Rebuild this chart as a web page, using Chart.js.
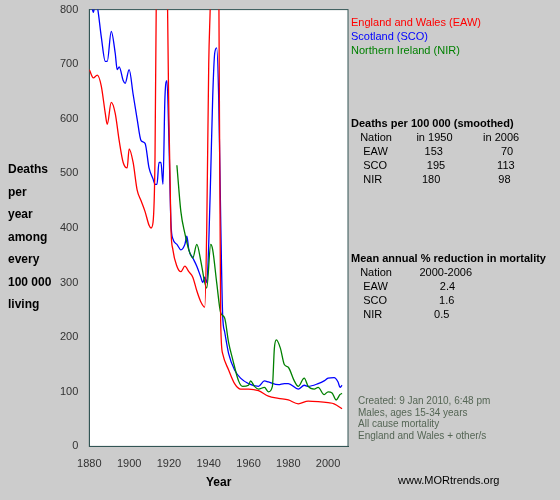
<!DOCTYPE html>
<html><head><meta charset="utf-8">
<script src="https://cdn.jsdelivr.net/npm/chart.js@4/dist/chart.umd.min.js"></script>
<style>
body{margin:0;background:#cccccc;font-family:"Liberation Sans",Arial,sans-serif;}
#wrap{position:relative;width:560px;height:500px;}
canvas{position:absolute;left:0;top:0;}
.t{position:absolute;font-size:11px;white-space:pre;line-height:14px;}
.b{font-weight:bold;}
</style></head><body>
<div id="wrap">
<canvas id="c" width="560" height="500"></canvas>
<div class="t b" style="left:8px;top:158px;font-size:12px;line-height:22.5px;">Deaths
per
year
among
every
100 000
living</div>
<div class="t" style="left:351px;top:15px;color:#ff0000">England and Wales (EAW)</div>
<div class="t" style="left:351px;top:29px;color:#0000ff">Scotland (SCO)</div>
<div class="t" style="left:351px;top:43px;color:#008000">Northern Ireland (NIR)</div>
<div class="t" style="left:351px;top:116px;"><span class="b">Deaths per 100 000 (smoothed)</span>
   Nation        in 1950          in 2006
    EAW            153                   70
    SCO             195                 113
    NIR             180                   98</div>
<div class="t" style="left:351px;top:251px;"><span class="b">Mean annual % reduction in mortality</span>
   Nation         2000-2006
    EAW                 2.4
    SCO                 1.6
    NIR                 0.5</div>
<div class="t" style="left:358px;top:395px;font-size:10px;line-height:11.5px;color:#556655">Created: 9 Jan 2010, 6:48 pm
Males, ages 15-34 years
All cause mortality
England and Wales + other/s</div>
<div class="t" style="left:398px;top:473px;">www.MORtrends.org</div>
</div>
<script>
// ====== data ======
const eawYears = [1880,1882,1884,1886,1888,1889,1891,1893,1895,1897,1899,1900,1902,1904,1906,1908,1910,1911,1912,1913,1914,1915,1916,1917,1918,1919,1920,1921,1922,1924,1926,1928,1930,1932,1934,1936,1938,1939,1940,1941,1942,1943,1944,1945,1946,1947,1950,1953,1956,1960,1965,1970,1975,1980,1985,1990,1995,2000,2003,2007];
const eawVals  = [690,675,680,660,610,590,630,610,560,520,510,545,520,470,450,430,405,400,410,530,1000,1500,1600,1600,1500,900,600,400,360,330,320,330,320,310,285,265,255,400,700,850,1200,1400,1300,900,230,170,140,115,105,105,102,92,88,85,78,83,82,80,78,69];
const scoYears = [1880,1881,1882,1883,1884,1886,1888,1889,1891,1893,1894,1895,1897,1898,1900,1902,1904,1906,1908,1910,1912,1913,1914,1915,1916,1917,1918,1919,1920,1921,1922,1924,1926,1928,1929,1930,1932,1934,1936,1937,1938,1939,1940,1941,1942,1943,1944,1945,1946,1947,1948,1950,1953,1956,1960,1965,1968,1970,1975,1978,1980,1985,1988,1990,1995,1998,2000,2003,2005,2006,2007];
const scoVals  = [815,810,795,810,805,750,705,705,760,720,690,695,670,665,690,645,600,560,555,510,490,480,480,520,520,480,640,670,560,410,380,370,360,370,385,360,345,330,310,300,310,300,370,500,640,720,730,640,420,240,210,170,140,125,115,110,120,118,113,115,115,105,112,110,115,120,125,126,118,108,112];
const nirYears = [1924,1926,1928,1930,1932,1934,1936,1938,1939,1941,1942,1944,1946,1948,1950,1952,1955,1957,1960,1961,1963,1965,1968,1970,1972,1973,1974,1976,1978,1980,1983,1985,1988,1990,1993,1995,1998,2000,2002,2004,2006,2007];
const nirVals  = [515,430,390,360,345,370,340,300,290,370,360,300,245,235,190,160,120,110,112,120,110,105,108,100,110,180,195,180,150,145,120,110,125,110,105,108,95,100,98,85,95,97];
const xTicks = [1880,1900,1920,1940,1960,1980,2000];

const pts = (xs, ys) => xs.map((x, i) => ({x, y: ys[i]}));
const ds = (data, color) => ({data, borderColor: color, borderWidth: 1.3, pointRadius: 0, cubicInterpolationMode: 'monotone', fill: false});

new Chart(document.getElementById('c'), {
  type: 'line',
  data: {datasets: [
    ds(pts(eawYears, eawVals), '#ff0000'),
    ds(pts(nirYears, nirVals), '#008000'),
    ds(pts(scoYears, scoVals), '#0000ff')
  ]},
  options: {
    responsive: false, animation: false,
    layout: {padding: {left: 57, top: 8, right: 212, bottom: 8}},
    plugins: {legend: {display: false}, tooltip: {enabled: false}},
    scales: {
      x: {type: 'linear', min: 1880, max: 2010,
        afterBuildTicks: a => { a.ticks = xTicks.map(v => ({value: v})); },
        grid: {display: false},
        border: {color: '#335555'},
        ticks: {color: '#333', font: {size: 11}, callback: v => String(v)},
        title: {display: true, text: 'Year', font: {size: 12, weight: 'bold'}, color: '#000', padding: 2}},
      y: {min: 0, max: 800,
        ticks: {stepSize: 100, color: '#333', font: {size: 11}},
        grid: {display: false},
        border: {color: '#335555'}}
    }
  },
  plugins: [{id: 'bg', beforeDraw(ch) {
    const a = ch.chartArea, c = ch.ctx;
    c.save(); c.fillStyle = '#fff'; c.fillRect(a.left, a.top, a.right - a.left, a.bottom - a.top);
    c.strokeStyle = '#335555'; c.strokeRect(a.left, a.top, a.right - a.left, a.bottom - a.top); c.restore();
  }}]
});
</script>
</body></html>
